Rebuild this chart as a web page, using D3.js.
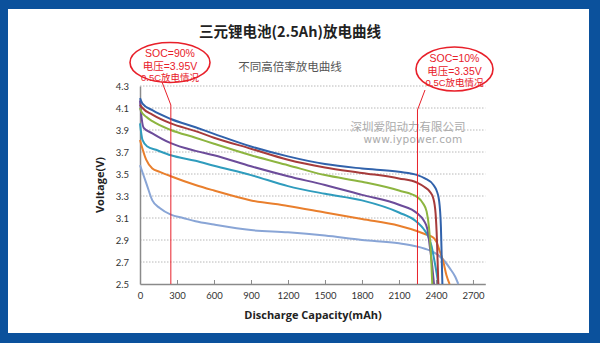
<!DOCTYPE html>
<html><head><meta charset="utf-8">
<script src="https://cdn.jsdelivr.net/npm/d3@7"></script>
<style>html,body{margin:0;padding:0;background:#fff;}svg{display:block;}</style>
</head><body>
<svg id="c" width="600" height="343"></svg>
<script>
// ---- data ----
const xTicks = [0,300,600,900,1200,1500,1800,2100,2400,2700];
const yTicks = [2.5,2.7,2.9,3.1,3.3,3.5,3.7,3.9,4.1,4.3];
const seriesColors = ["#3162ab","#a63b3b","#8db540","#6c4c9a","#2f9cbd","#e97f2d","#89a5d6"];

const blueCap = [0,20,100,250,450,600,900,1200,1500,1800,2100,2250,2310,2380,2405,2425,2440,2447,2452];
const blueV   = [4.19,4.14,4.08,4.00,3.925,3.865,3.75,3.66,3.59,3.55,3.52,3.49,3.46,3.40,3.35,3.26,3.02,2.72,2.50];
const redCap  = [0,20,100,250,450,600,900,1200,1500,1800,2100,2250,2310,2350,2378,2397,2408,2419];
const redV    = [4.13,4.10,4.04,3.96,3.89,3.83,3.73,3.63,3.56,3.51,3.46,3.42,3.38,3.34,3.28,3.14,2.90,2.50];
const greenCap= [0,10,50,100,250,450,600,900,1200,1500,1800,2100,2250,2297,2324,2343,2359,2370];
const greenV  = [4.10,4.07,4.02,3.98,3.90,3.83,3.775,3.67,3.58,3.49,3.43,3.35,3.29,3.23,3.16,3.02,2.78,2.50];
const purpleCap=[0,5,30,100,250,450,600,900,1200,1500,1800,2100,2250,2300,2330,2350,2370,2384];
const purpleV = [4.17,4.10,3.92,3.87,3.78,3.71,3.67,3.57,3.48,3.40,3.31,3.22,3.14,3.08,3.00,2.84,2.66,2.50];
const tealCap = [0,20,60,130,250,450,600,900,1200,1500,1800,2100,2250,2300,2338,2365,2386,2405,2419];
const tealV   = [3.96,3.81,3.75,3.72,3.67,3.62,3.575,3.49,3.39,3.32,3.26,3.15,3.06,3.00,2.93,2.84,2.72,2.60,2.50];
const orangeCap=[0,50,100,160,250,450,600,900,1200,1500,1800,2100,2250,2320,2380,2405,2430,2460,2485,2510];
const orangeV = [3.81,3.63,3.55,3.52,3.48,3.40,3.35,3.26,3.21,3.15,3.09,3.03,2.98,2.95,2.92,2.88,2.80,2.70,2.58,2.50];
const lblueCap= [0,50,100,160,250,350,450,600,900,1200,1500,1800,2100,2250,2310,2380,2420,2460,2514,2554,2581];
const lblueV  = [3.58,3.42,3.26,3.19,3.13,3.10,3.07,3.04,2.99,2.97,2.94,2.90,2.87,2.84,2.82,2.79,2.76,2.72,2.64,2.57,2.50];

const socMarks = [250, 2250];
const notes = [
  ["SOC=90%","电压=3.95V","0.5C放电情况"],
  ["SOC=10%","电压=3.35V","0.5C放电情况"]
];

const series = [
  [blueCap,blueV],[redCap,redV],[greenCap,greenV],[purpleCap,purpleV],
  [tealCap,tealV],[orangeCap,orangeV],[lblueCap,lblueV]
].map(([c,v],i)=>({color:seriesColors[i], pts:c.map((x,j)=>[x,v[j]])}));

// ---- drawing ----
const svg = d3.select("#c");
svg.append("rect").attr("x",0).attr("y",0).attr("width",600).attr("height",343).attr("fill","#0b519c");
svg.append("rect").attr("x",8).attr("y",9).attr("width",581).attr("height",324).attr("fill","#fff");

const x = d3.scaleLinear().domain([0,2800]).range([140,485.3]);
const y = d3.scaleLinear().domain([2.5,4.3]).range([284,86]);

// gridlines
svg.append("g").selectAll("line").data(yTicks.filter(t=>t>2.5)).join("line")
  .attr("x1",x(0)).attr("x2",x(2800)).attr("y1",d=>y(d)).attr("y2",d=>y(d))
  .attr("stroke","#b8b8b8").attr("stroke-width",1).attr("stroke-dasharray","1.5,1.5");

// watermark
svg.append("text").attr("x",408).attr("y",131).attr("text-anchor","middle")
  .attr("font-family","Noto Sans CJK SC").attr("font-size",11.5).attr("fill","#ababab").text("深圳爱阳动力有限公司");
svg.append("text").attr("x",413).attr("y",143).attr("text-anchor","middle")
  .attr("font-family","DejaVu Sans").attr("font-size",10.5).attr("fill","#ababab").attr("letter-spacing",0.3).text("www.iypower.com");

// axes
const xAxis = d3.axisBottom(x).tickValues(xTicks).tickSizeInner(-4).tickSizeOuter(0).tickFormat(d3.format("d"));
const gx = svg.append("g").attr("transform",`translate(0,${y(2.5)})`).call(xAxis);
gx.select(".domain").attr("stroke","#8a8a8a").attr("stroke-width",1.5);
gx.selectAll(".tick line").attr("stroke","#8a8a8a");
gx.selectAll(".tick text").attr("y",15).attr("dy","0").attr("font-family","Lato").attr("font-size",9.5).attr("fill","#333");

const yAxis = d3.axisLeft(y).tickValues(yTicks).tickSize(0).tickFormat(d3.format(".1f"));
const gy = svg.append("g").attr("transform",`translate(${x(0)},0)`).call(yAxis);
gy.select(".domain").attr("stroke","#8a8a8a").attr("stroke-width",1.5);
gy.selectAll(".tick text").attr("x",-11).attr("font-family","Lato").attr("font-size",9.5).attr("fill","#333");

// series
const line = d3.line().x(d=>x(d[0])).y(d=>y(d[1])).curve(d3.curveMonotoneX);
svg.append("g").selectAll("path").data(series.slice().reverse()).join("path")
  .attr("d",d=>line(d.pts)).attr("fill","none").attr("stroke",d=>d.color).attr("stroke-width",2);

// axis titles
svg.append("text").attr("x",313).attr("y",319).attr("text-anchor","middle")
  .attr("font-family","Open Sans").attr("font-weight","bold").attr("font-size",11).attr("fill","#222")
  .text("Discharge Capacity(mAh)");
svg.append("text").attr("transform","translate(104,185) rotate(-90)").attr("text-anchor","middle")
  .attr("font-family","Open Sans").attr("font-weight","bold").attr("font-size",11).attr("fill","#222")
  .text("Voltage(V)");

// titles
svg.append("text").attr("x",290).attr("y",37).attr("text-anchor","middle")
  .attr("font-family","Noto Sans CJK SC").attr("font-weight","bold").attr("font-size",14.5).attr("fill","#222")
  .text("三元锂电池(2.5Ah)放电曲线");
svg.append("text").attr("x",290).attr("y",71).attr("text-anchor","middle")
  .attr("font-family","Noto Sans CJK SC").attr("font-size",11.5).attr("fill","#555")
  .text("不同高倍率放电曲线");

// SOC annotations
const red = "#e8202a";
const ann = [
  {cx:170, cy:62.5, rx:40, ry:20, lx1:162, ly1:82, ly2:105, ty:[53.5,66,78]},
  {cx:454.5, cy:69, rx:38.5, ry:22, lx1:425, ly1:90, ly2:110, ty:[58.5,71,83]}
];
ann.forEach((a,i)=>{
  const vx = x(socMarks[i]);
  svg.append("line").attr("x1",vx).attr("x2",vx).attr("y1",a.ly2).attr("y2",y(2.5))
    .attr("stroke",red).attr("stroke-width",1);
  svg.append("line").attr("x1",a.lx1).attr("y1",a.ly1).attr("x2",vx).attr("y2",a.ly2)
    .attr("stroke",red).attr("stroke-width",1);
  svg.append("ellipse").attr("cx",a.cx).attr("cy",a.cy).attr("rx",a.rx).attr("ry",a.ry)
    .attr("fill","#fff").attr("fill-opacity",0.6).attr("stroke",red).attr("stroke-width",1.6);
  notes[i].forEach((t,j)=>{
    svg.append("text").attr("x",a.cx).attr("y",a.ty[j]).attr("dy","0.35em").attr("text-anchor","middle")
      .attr("font-family","'Liberation Sans','Noto Sans CJK SC'").attr("font-size",j===2?9.5:10.5).attr("fill",red).text(t);
  });
});
</script>
</body></html>
